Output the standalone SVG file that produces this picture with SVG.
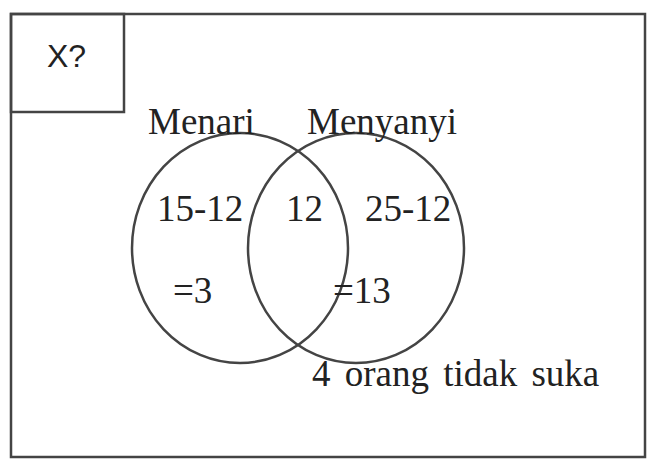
<svg xmlns="http://www.w3.org/2000/svg" width="654" height="471" viewBox="0 0 654 471">
<style>
.ln{fill:none;stroke:#444;stroke-width:2.5}
.t{font-family:"Liberation Serif","Times New Roman",serif;font-size:37px;fill:#222}
.s{font-family:"Liberation Sans",Arial,sans-serif;font-size:32px;fill:#222}
</style>
<rect width="654" height="471" fill="#fff"/>
<g id="frame">
<rect class="ln" x="11" y="14" width="634" height="443"/>
</g>
<g id="xbox">
<rect class="ln" x="11" y="14" width="113" height="98"/>
<text class="s" x="47" y="67">X?</text>
</g>
<g id="menari">
<ellipse class="ln" cx="240" cy="248" rx="108" ry="115"/>
<text class="t" x="148" y="134">Menari</text>
<text class="t" x="157" y="221">15-12</text>
<text class="t" x="173" y="303">=3</text>
</g>
<g id="menyanyi">
<ellipse class="ln" cx="356" cy="248" rx="108" ry="115"/>
<text class="t" x="307" y="134">Menyanyi</text>
<text class="t" x="365" y="221">25-12</text>
<text class="t" x="333" y="303">=13</text>
</g>
<g id="intersection">
<text class="t" x="286" y="221">12</text>
</g>
<g id="outside">
<text class="t" x="312" y="386" word-spacing="5">4 orang tidak suka</text>
</g>
</svg>
